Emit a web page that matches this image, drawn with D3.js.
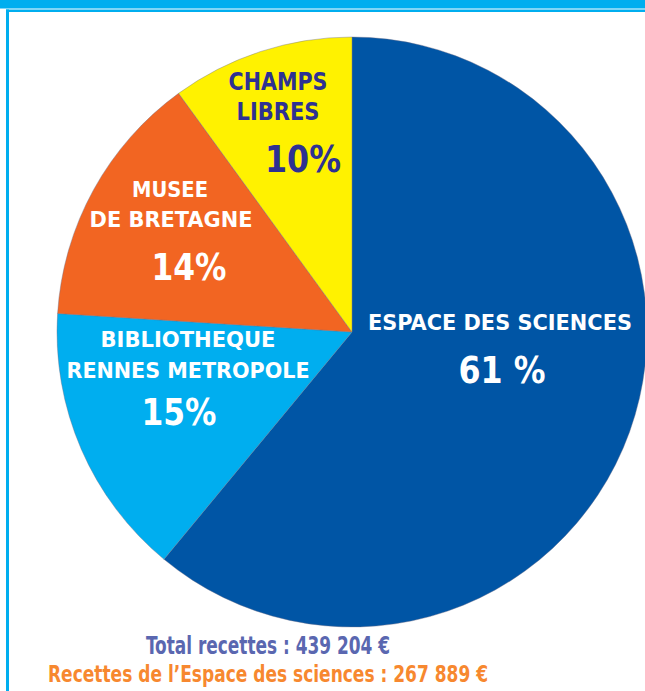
<!DOCTYPE html>
<html>
<head>
<meta charset="utf-8">
<script src="https://cdn.jsdelivr.net/npm/d3@7"></script>
<style>
  html, body { margin: 0; padding: 0; background: #fff; overflow: hidden; }
  svg { display: block; }
  text { font-family: "DejaVu Sans Condensed", "DejaVu Sans", sans-serif; font-weight: bold; }
</style>
</head>
<body>
<svg id="chart"></svg>
<script>
// recettes par équipement (%)
const categories = ['Espace des sciences', 'Bibliotheque Rennes Metropole', 'Musee de Bretagne', 'Champs Libres'];
const shares = [61, 15, 14, 10];
const nameLines = [
  ['ESPACE DES SCIENCES'],
  ['BIBLIOTHEQUE', 'RENNES METROPOLE'],
  ['MUSEE', 'DE BRETAGNE'],
  ['CHAMPS', 'LIBRES']
];
const shareLabels = ['61 %', '15%', '14%', '10%'];
const totalLine = 'Total recettes : 439 204 €';
const espaceLine = 'Recettes de l\u2019Espace des sciences : 267 889 €';

const colours = ['#0055a5', '#00aeef', '#f26522', '#fff200'];
const textColours = ['#ffffff', '#ffffff', '#ffffff', '#2e3192'];

// label layout, relative to pie centre: [dx, baseline dy, width] per line
const nameLayout = [
  [[148, -2, 264]],
  [[-164, 15, 175], [-164, 46, 243]],
  [[-182, -135, 76], [-181, -105, 163]],
  [[-74, -242, 99], [-74, -212, 83]]
];
const shareLayout = [[150, 51, 87], [-173, 93, 75], [-163, -52, 75], [-49, -160, 76]];

const W = 645;
const H = 691;
const cx = 352;
const cy = 332;
const radius = 295;

const svg = d3.select('#chart')
  .attr('width', W)
  .attr('height', H);

// cadre bleu
svg.append('rect')
  .attr('x', 0).attr('y', 0)
  .attr('width', W).attr('height', 8.5)
  .attr('fill', '#00aeef');
svg.append('rect')
  .attr('x', 6).attr('y', 9.5)
  .attr('width', W).attr('height', 2.5)
  .attr('fill', '#00aeef');
svg.append('rect')
  .attr('x', 6).attr('y', 9.5)
  .attr('width', 3).attr('height', H)
  .attr('fill', '#00aeef');

const pie = d3.pie()
  .sort(null)
  .value(d => d);

const arc = d3.arc()
  .innerRadius(0)
  .outerRadius(radius);

const g = svg.append('g')
  .attr('transform', `translate(${cx}, ${cy})`);

g.selectAll('.slice')
  .data(pie(shares))
  .enter()
  .append('path')
  .attr('class', 'slice')
  .attr('d', arc)
  .attr('fill', (d, i) => colours[i])
  .attr('stroke', '#6d6f86')
  .attr('stroke-opacity', 0.5)
  .attr('stroke-width', 0.8);

// noms
nameLines.forEach((lines, i) => {
  lines.forEach((line, j) => {
    const [dx, dy, w] = nameLayout[i][j];
    g.append('text')
      .attr('x', dx)
      .attr('y', dy)
      .attr('text-anchor', 'middle')
      .attr('font-size', i === 3 ? 24 : 21)
      .attr('textLength', w)
      .attr('lengthAdjust', 'spacingAndGlyphs')
      .attr('fill', textColours[i])
      .text(line);
  });
});

// pourcentages
shareLabels.forEach((label, i) => {
  const [dx, dy, w] = shareLayout[i];
  g.append('text')
    .attr('x', dx)
    .attr('y', dy)
    .attr('text-anchor', 'middle')
    .attr('font-size', 38)
    .attr('textLength', w)
    .attr('lengthAdjust', 'spacingAndGlyphs')
    .attr('fill', textColours[i])
    .text(label);
});

svg.append('text')
  .attr('x', 268)
  .attr('y', 654)
  .attr('text-anchor', 'middle')
  .attr('font-size', 24)
  .attr('textLength', 244)
  .attr('lengthAdjust', 'spacingAndGlyphs')
  .attr('fill', '#5a67b0')
  .text(totalLine);

svg.append('text')
  .attr('x', 268)
  .attr('y', 682)
  .attr('text-anchor', 'middle')
  .attr('font-size', 23)
  .attr('textLength', 440)
  .attr('lengthAdjust', 'spacingAndGlyphs')
  .attr('fill', '#f7882f')
  .text(espaceLine);
</script>
</body>
</html>
